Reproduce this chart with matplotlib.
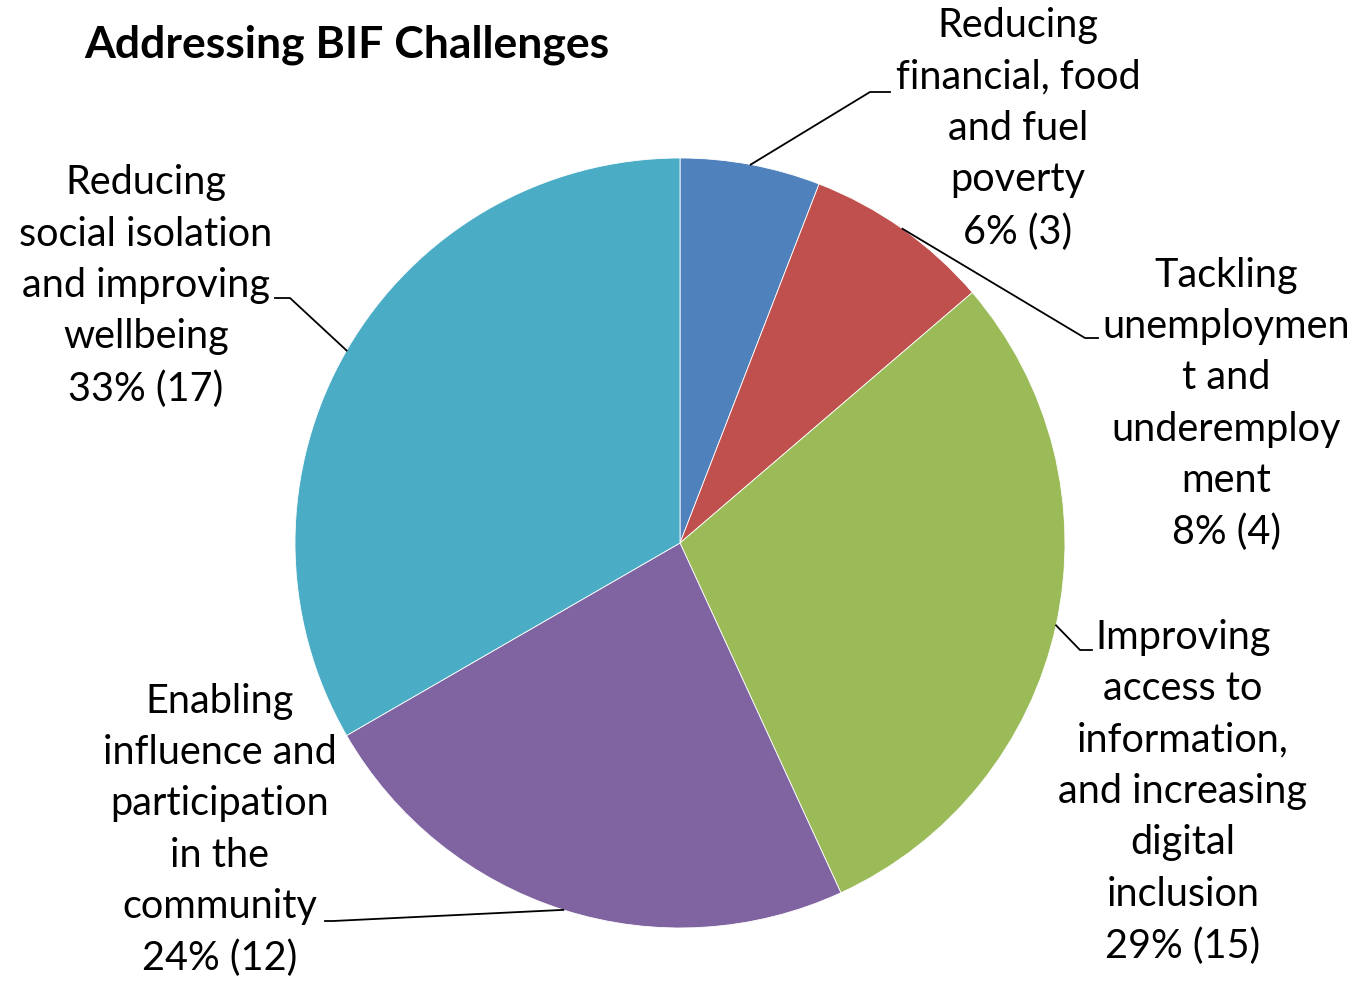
import numpy as np
import matplotlib
matplotlib.use("Agg")
import matplotlib.pyplot as plt

# chart data
labels = [
    "Reducing\nfinancial, food\nand fuel\npoverty",
    "Tackling\nunemploymen\nt and\nunderemploy\nment",
    "Improving\naccess to\ninformation,\nand increasing\ndigital\ninclusion",
    "Enabling\ninfluence and\nparticipation\nin the\ncommunity",
    "Reducing\nsocial isolation\nand improving\nwellbeing",
]
counts = [3, 4, 15, 12, 17]
percents = [6, 8, 29, 24, 33]
colors = ["#4F81BD", "#C0504D", "#9BBB59", "#8064A2", "#4BACC6"]

# layout in pixel units (y measured from the bottom)
W, H = 1355, 981
cx, cy, r = 680, H - 543, 385
label_pos = [(1018, H - 129), (1226, H - 404), (1183, H - 792), (220, H - 830), (146, H - 286)]
elbows = [((870, H - 92), (890, H - 92)),
          ((1085, H - 338), (1098, H - 338)),
          ((1080, H - 650), (1092, H - 650)),
          ((333, H - 921), (325, H - 921)),
          ((290, H - 298), (275, H - 298))]

plt.rcParams['font.family'] = ['Lato', 'DejaVu Sans']

fig = plt.figure(figsize=(W / 100, H / 100), dpi=100)
ax = fig.add_axes([0, 0, 1, 1])

wedges, _ = ax.pie(counts, colors=colors, startangle=90, counterclock=False,
                   center=(cx, cy), radius=r, frame=True,
                   wedgeprops=dict(edgecolor='white', linewidth=0.6))
ax.set_xlim(0, W)
ax.set_ylim(0, H)
ax.set_aspect('equal')
ax.axis('off')

for w, lab, pct, n, pos, el in zip(wedges, labels, percents, counts, label_pos, elbows):
    mid = np.deg2rad((w.theta1 + w.theta2) / 2)
    ax0 = cx + r * np.cos(mid)
    ay0 = cy + r * np.sin(mid)
    ax.plot([ax0, el[0][0], el[1][0]], [ay0, el[0][1], el[1][1]], color='black', lw=1.3)
    ax.text(pos[0], pos[1], "{}\n{}% ({})".format(lab, pct, n), ha='center', va='center',
            fontsize=28.5, linespacing=1.48, color='black')

ax.text(84, H - 45, "Addressing BIF Challenges", ha='left', va='center',
        fontsize=32, fontweight='bold')

fig.savefig('out.png', dpi=100)
